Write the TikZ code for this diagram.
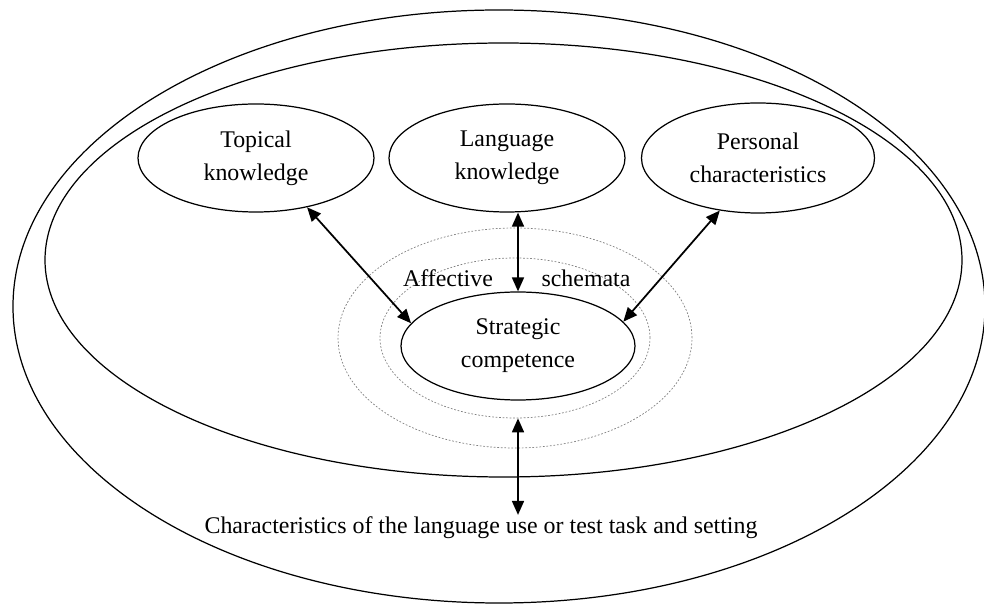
\documentclass[tikz,border=0pt]{standalone}
\usepackage{fontspec}
\setmainfont{Liberation Serif}
\usetikzlibrary{shapes,arrows.meta}
\tikzstyle{nd}=[ellipse,draw=black,line width=.7pt,inner sep=0pt,align=center]
\tikzstyle{affring}=[ellipse,draw=gray,line width=.4pt,dash pattern=on 1pt off 1pt,inner sep=0pt]
\tikzstyle{lk}=[{Triangle[length=2.8mm,width=2.4mm]}-{Triangle[length=2.8mm,width=2.4mm]},line width=1pt]

\begin{document}
\begin{tikzpicture}[font=\fontsize{13.6}{18.8}\selectfont]
\useasboundingbox (0,0) rectangle (19.68,12.12);
\draw[line width=.7pt] (9.98,5.99) ellipse [x radius=9.72, y radius=5.93];
\draw[line width=.7pt] (10.07,6.92) ellipse [x radius=9.17, y radius=4.34];
\node[nd,minimum width=4.72cm,minimum height=2.16cm] (topical) at (5.12,8.96) {Topical\\knowledge};
\node[nd,minimum width=4.72cm,minimum height=2.16cm] (language) at (10.14,8.96) {Language\\knowledge};
\node[nd,minimum width=4.66cm,minimum height=2.2cm] (personal) at (15.16,8.96) {Personal\\characteristics};
\node[affring,minimum width=7.08cm,minimum height=4.4cm] (ringout) at (10.3,5.36) {};
\node[affring,minimum width=5.4cm,minimum height=3.2cm] (ringin) at (10.3,5.36) {};
\node[nd,minimum width=4.68cm,minimum height=2.16cm] (strategic) at (10.36,5.2) {Strategic\\competence};
\node (affective) at (8.96,6.56) {Affective};
\node (schemata) at (11.72,6.56) {schemata};
\node[inner sep=1pt] (task) at (9.62,1.56) {Characteristics of the language use or test task and setting};
\draw[lk] (topical.-44) -- (strategic.168);
\draw[lk] (language.south -| strategic.north) -- (strategic.north);
\draw[lk] (personal.-126) -- (strategic.13);
\draw[lk] (ringin.south -| strategic.south) -- (task.north -| strategic.south);
\end{tikzpicture}
\end{document}
